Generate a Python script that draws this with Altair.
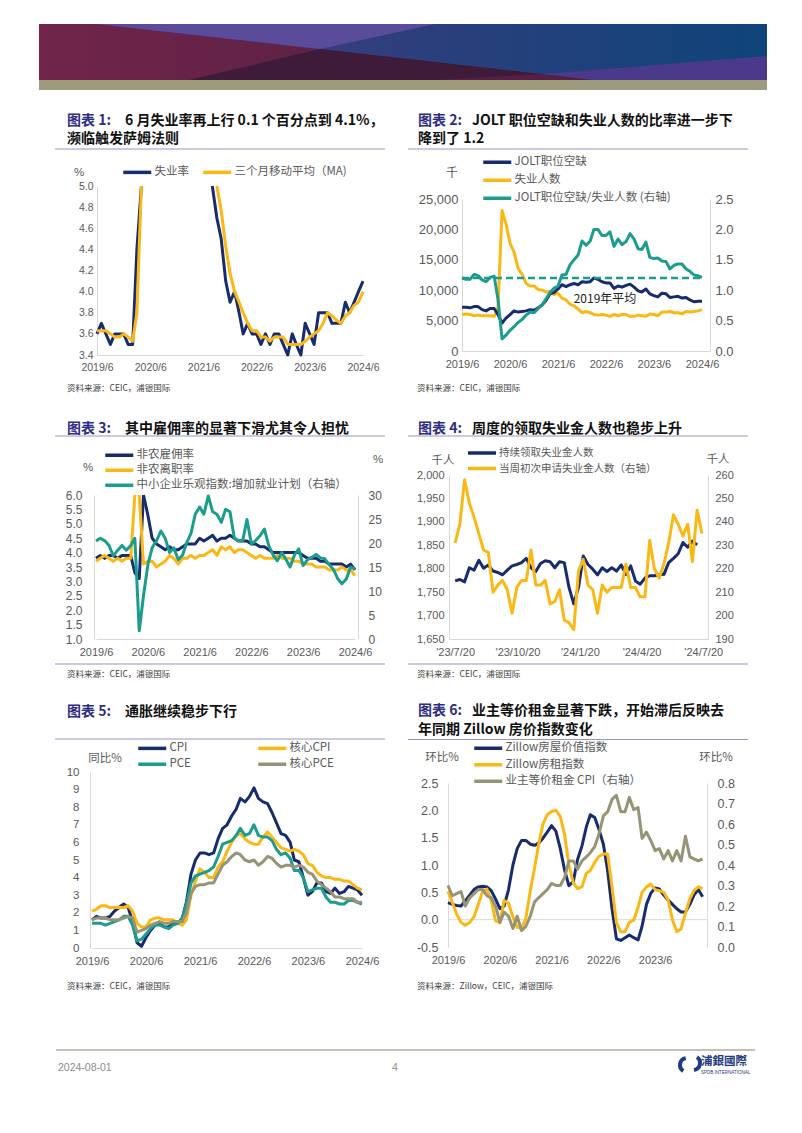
import altair as alt
import pandas as pd

# ---------------- categories ----------------
MONTHS = list(pd.date_range("2019-06-01", "2024-06-01", freq="MS"))   # 2019/6 .. 2024/6
WEEKS = list(pd.date_range("2023-07-20", periods=53, freq="7D"))

# ---------------- panel 1 : unemployment rate (%) ----------------
UNRATE = [3.6, 3.7, 3.6, 3.5, 3.6, 3.6, 3.6,
          3.5, 3.5, 4.4, 14.8, 13.2, 11.0, 10.2, 8.4, 7.8, 6.9, 6.7, 6.7,
          6.4, 6.2, 6.1, 6.1, 5.8, 5.9, 5.4, 5.1, 4.7, 4.5, 4.1, 3.9,
          4.0, 3.8, 3.6, 3.7, 3.6, 3.6, 3.5, 3.6, 3.5, 3.6, 3.6, 3.5,
          3.4, 3.6, 3.5, 3.4, 3.7, 3.6, 3.5, 3.8, 3.8, 3.8, 3.7, 3.7,
          3.7, 3.9, 3.8, 3.9, 4.0, 4.1]
UNRATE_MA3 = [3.63, 3.63, 3.63, 3.6, 3.57, 3.57, 3.6,
              3.57, 3.53, 3.8, 7.57, 10.8, 13.0, 11.47, 9.87, 8.8, 7.7, 7.13, 6.77,
              6.6, 6.43, 6.23, 6.13, 6.0, 5.93, 5.7, 5.47, 5.07, 4.77, 4.43, 4.17,
              4.0, 3.9, 3.8, 3.7, 3.63, 3.63, 3.57, 3.57, 3.53, 3.57, 3.57, 3.57,
              3.5, 3.5, 3.5, 3.5, 3.53, 3.57, 3.6, 3.63, 3.7, 3.8, 3.77, 3.73,
              3.7, 3.77, 3.8, 3.87, 3.9, 4.0]

# ---------------- panel 2 : JOLTS (thousand) ----------------
JOLTS_OPENINGS = [7200, 7200, 7100, 7300, 7300, 6800, 6600,
                  7000, 7000, 6000, 4600, 5400, 6000, 6600, 6400, 6500, 6600, 6800, 6700,
                  7100, 7600, 8300, 9400, 9600, 10200, 10900, 10600, 10900, 11100, 10900, 11400,
                  11300, 11400, 12000, 11800, 11400, 11200, 11200, 10300, 10700, 10500, 10800, 11000,
                  10500, 9900, 9700, 10200, 9400, 9100, 8900, 9500, 9400, 8800, 8900, 9000,
                  8700, 8800, 8400, 8100, 8200, 8200]
UNEMPLOYED = [6000, 6100, 6000, 5800, 5900, 5800, 5800,
              5800, 5700, 7100, 23100, 20900, 17700, 16300, 13600, 12600, 11100, 10700, 10700,
              10100, 10000, 9700, 9800, 9300, 9500, 8700, 8400, 7700, 7400, 6900, 6300,
              6500, 6300, 6000, 5900, 6000, 5900, 5700, 6000, 5800, 6000, 6000, 5700,
              5700, 5900, 5800, 5700, 6100, 6000, 5800, 6400, 6400, 6500, 6300, 6300,
              6100, 6500, 6400, 6500, 6600, 6800]
V_U_RATIO = [1.20, 1.18, 1.18, 1.26, 1.24, 1.17, 1.14,
             1.21, 1.23, 0.85, 0.20, 0.26, 0.34, 0.40, 0.47, 0.52, 0.59, 0.64, 0.63,
             0.70, 0.76, 0.86, 0.96, 1.03, 1.07, 1.25, 1.26, 1.42, 1.50, 1.58, 1.81,
             1.74, 1.81, 2.00, 2.00, 1.90, 1.90, 1.96, 1.72, 1.84, 1.75, 1.80, 1.93,
             1.84, 1.68, 1.67, 1.79, 1.54, 1.52, 1.53, 1.48, 1.47, 1.35, 1.41, 1.43,
             1.43, 1.35, 1.31, 1.25, 1.24, 1.21]
RATIO_2019_AVG = [1.2, 1.2]

# ---------------- panel 3 : hires / separations (%), NFIB hiring plans ----------------
HIRES_RATE = [3.8, 3.9, 3.8, 3.9, 3.9, 3.8, 3.9,
              3.9, 3.9, 3.3, 3.1, 6.8, 5.3, 4.5, 4.3, 4.2, 4.1, 4.2, 4.1,
              4.1, 4.2, 4.3, 4.3, 4.3, 4.5, 4.4, 4.5, 4.6, 4.4, 4.5, 4.5,
              4.6, 4.5, 4.4, 4.4, 4.4, 4.3, 4.3, 4.2, 4.2, 4.1, 4.0, 4.0,
              4.0, 4.0, 4.0, 4.0, 4.0, 3.9, 3.8, 3.8, 3.8, 3.7, 3.7, 3.6,
              3.6, 3.6, 3.6, 3.5, 3.6, 3.4]
SEPARATION_RATE = [3.7, 3.8, 3.9, 3.8, 3.7, 3.8, 3.7,
                   3.8, 3.8, 10.5, 7.6, 3.6, 3.7, 3.7, 3.5, 3.6, 3.7, 3.9, 3.8,
                   3.6, 3.8, 3.8, 3.9, 3.8, 3.9, 3.9, 4.0, 4.1, 3.9, 4.2, 4.1,
                   4.2, 4.0, 4.1, 4.1, 4.0, 3.9, 3.8, 3.9, 3.8, 3.8, 3.8, 3.9,
                   3.8, 3.8, 3.8, 3.7, 3.7, 3.6, 3.6, 3.6, 3.5, 3.5, 3.5, 3.4,
                   3.4, 3.4, 3.5, 3.4, 3.4, 3.2]
NFIB_HIRING_PLANS = [20.4, 21, 20.5, 19.5, 17.3, 18.5, 19.5, 18.5, 19.5, 21,
                     1.7, 9, 15.5, 19, 20.5, 22.5, 21, 18, 19, 16.5,
                     17.5, 20, 22, 26, 27.5, 26, 29.8, 26.5, 26, 24.3,
                     27, 26.5, 21, 20.5, 20.5, 24.9, 19.8, 20.5, 21.5, 22.9,
                     19.5, 17.5, 16.3, 18, 16.5, 15, 17.5, 18.8, 15.3, 16.5,
                     17, 17.6, 16.9, 16.7, 15.5, 14.5, 12.5, 11.5, 12.5, 15, 14.6]

# ---------------- panel 4 : weekly claims (thousand) ----------------
CONT_CLAIMS = [1774, 1777, 1772, 1802, 1797, 1818, 1801, 1808, 1795, 1792,
               1787, 1797, 1806, 1809, 1813, 1822, 1802, 1794, 1811, 1817,
               1815, 1802, 1815, 1813, 1760, 1725, 1760, 1827, 1809, 1799,
               1787, 1802, 1794, 1802, 1795, 1808, 1788, 1806, 1774, 1767,
               1780, 1785, 1785, 1787, 1788, 1813, 1822, 1832, 1856, 1846,
               1859, 1851]
INIT_CLAIMS = [231, 239, 258, 248, 242, 235, 228, 227, 210, 213,
               215, 211, 201, 212, 215, 215, 228, 213, 213, 215,
               205, 206, 211, 198, 197, 194, 219, 224, 213, 211,
               201, 213, 210, 212, 212, 212, 222, 212, 212, 208,
               208, 232, 220, 216, 222, 231, 243, 239, 234, 239,
               223, 245, 235]

# ---------------- panel 5 : inflation YoY (%) ----------------
CPI_YOY = [1.6, 1.8, 1.7, 1.7, 1.8, 2.1, 2.3,
           2.5, 2.3, 1.5, 0.3, 0.1, 0.6, 1.0, 1.3, 1.4, 1.2, 1.2, 1.4,
           1.4, 1.7, 2.6, 4.2, 5.0, 5.4, 5.4, 5.3, 5.4, 6.2, 6.8, 7.0,
           7.5, 7.9, 8.5, 8.3, 8.6, 9.1, 8.5, 8.3, 8.2, 7.7, 7.1, 6.5,
           6.4, 6.0, 5.0, 4.9, 4.0, 3.0, 3.2, 3.7, 3.7, 3.2, 3.1, 3.4,
           3.1, 3.2, 3.5, 3.4, 3.3, 3.0]
CORE_CPI_YOY = [2.1, 2.2, 2.4, 2.4, 2.3, 2.3, 2.3,
                2.3, 2.4, 2.1, 1.4, 1.2, 1.2, 1.6, 1.7, 1.7, 1.6, 1.6, 1.6,
                1.4, 1.3, 1.6, 3.0, 3.8, 4.5, 4.3, 4.0, 4.0, 4.6, 4.9, 5.5,
                6.0, 6.4, 6.5, 6.2, 6.0, 5.9, 5.9, 6.3, 6.6, 6.3, 6.0, 5.7,
                5.6, 5.5, 5.6, 5.5, 5.3, 4.8, 4.7, 4.3, 4.1, 4.0, 4.0, 3.9,
                3.9, 3.8, 3.8, 3.6, 3.4, 3.3]
PCE_YOY = [1.4, 1.4, 1.4, 1.3, 1.4, 1.5, 1.6,
           1.8, 1.8, 1.3, 0.4, 0.5, 0.8, 1.1, 1.3, 1.3, 1.2, 1.1, 1.3,
           1.4, 1.7, 2.5, 3.7, 4.1, 4.2, 4.3, 4.4, 4.6, 5.2, 5.9, 6.0,
           6.1, 6.4, 6.8, 6.4, 6.5, 7.0, 6.4, 6.3, 6.3, 6.1, 5.6, 5.3,
           5.4, 5.1, 4.4, 4.4, 4.0, 3.2, 3.3, 3.4, 3.4, 2.9, 2.6, 2.6,
           2.5, 2.5, 2.7, 2.7, 2.6, 2.5]
CORE_PCE_YOY = [1.6, 1.7, 1.7, 1.7, 1.6, 1.6, 1.6,
                1.7, 1.8, 1.7, 0.9, 1.0, 1.1, 1.3, 1.4, 1.5, 1.4, 1.4, 1.5,
                1.5, 1.5, 2.0, 3.1, 3.5, 3.6, 3.6, 3.7, 3.7, 4.2, 4.7, 4.9,
                5.2, 5.4, 5.3, 5.0, 4.9, 5.0, 4.7, 4.9, 5.2, 5.1, 4.8, 4.6,
                4.7, 4.7, 4.6, 4.7, 4.6, 4.3, 4.2, 3.8, 3.6, 3.4, 3.2, 2.9,
                2.9, 2.8, 2.8, 2.8, 2.6, 2.6]

# ---------------- panel 6 : MoM (%) ----------------
ZHVI_MOM = [0.31, 0.28, 0.26, 0.25, 0.34, 0.45, 0.55, 0.6, 0.61, 0.6,
            0.53, 0.38, 0.2, 0.25, 0.55, 1.0, 1.3, 1.45, 1.45, 1.38,
            1.36, 1.4, 1.49, 1.6, 1.72, 1.62, 1.3, 0.9, 0.62, 0.7,
            1.1, 1.35, 1.7, 1.92, 1.87, 1.65, 1.38, 0.9, 0.2, -0.35,
            -0.38, -0.33, -0.28, -0.33, -0.37, -0.12, 0.28, 0.48, 0.58, 0.56,
            0.45, 0.36, 0.28, 0.2, 0.14, 0.14, 0.28, 0.45, 0.55, 0.42]
ZORI_MOM = [0.52, 0.32, 0.1, -0.05, -0.1, -0.05, 0.05, 0.28, 0.52, 0.56,
            0.35, -0.02, -0.06, 0.35, 0.3, 0.05, -0.14, -0.16, 0.02, 0.52,
            0.95, 1.37, 1.75, 1.92, 1.98, 2.0, 1.89, 1.55, 1.0, 0.67,
            0.57, 0.6, 0.85, 0.9, 1.05, 1.16, 1.2, 1.2, 0.6, -0.05,
            -0.22, -0.22, -0.05, -0.01, 0.23, 0.5, 0.6, 0.65, 0.55, 0.53,
            0.5, 0.36, 0.0, -0.22, -0.17, 0.12, 0.38, 0.53, 0.6, 0.57]
OER_MOM = [0.30, 0.25, 0.26, 0.27, 0.2, 0.24, 0.26, 0.28, 0.28, 0.25,
           0.24, 0.2, 0.12, 0.17, 0.15, 0.09, 0.15, 0.08, 0.1, 0.15,
           0.22, 0.24, 0.26, 0.28, 0.31, 0.3, 0.3, 0.34, 0.42, 0.42,
           0.38, 0.42, 0.44, 0.46, 0.49, 0.55, 0.64, 0.66, 0.72, 0.74,
           0.66, 0.66, 0.73, 0.67, 0.68, 0.53, 0.56, 0.52, 0.47, 0.48,
           0.43, 0.47, 0.42, 0.47, 0.42, 0.54, 0.44, 0.43, 0.42, 0.43]

# ---------------- styling ----------------
W = 364
FONT_CJK = "Noto Sans CJK SC"
FONT_NUM = "Liberation Sans"
LBL = "#595959"
AXL = "#D9D9D9"
NAVY = "#172C6E"
GOLD = "#FBB814"
TEAL = "#1C9C8E"
OLIVE = "#979476"
INDIGO = "#2D2E83"
SEP = "#9794BC"
DUMMY = alt.Data(values=[{"k": 1}])


def DT(y, m, d=1):
    return alt.DateTime(year=y, month=m, date=d)


def series_df(dates, vals, name, top=None):
    """Long table; a run of points above the plotted range is cut into separate segments."""
    rows, seg, n = [], 0, len(vals)
    for i in range(n):
        v = vals[i]
        if top is not None and v > top:
            prev_above = i > 0 and vals[i - 1] > top
            next_above = i + 1 < n and vals[i + 1] > top
            if not prev_above:
                rows.append((dates[i], v, seg))
                seg += 1
            if not next_above:
                rows.append((dates[i], v, seg))
        else:
            rows.append((dates[i], v, seg))
    df = pd.DataFrame(rows, columns=["date", "value", "seg"])
    df["series"] = name
    return df


def x_time(domain, rng, ticks, fmt, axis_y, H, size=11, domain_line=True):
    return alt.X("date:T", scale=alt.Scale(domain=domain, range=rng),
                 axis=alt.Axis(values=ticks, format=fmt, title=None, grid=False, ticks=False,
                               domain=domain_line, domainColor=AXL, domainWidth=1,
                               labelFont=FONT_NUM, labelFontSize=size, labelColor=LBL,
                               labelPadding=7, labelFlush=False, labelOverlap=False,
                               offset=axis_y - H))


def y_val(domain, rng, orient=None, axis_x=None, ticks=None, fmt=None, pad=5, size=11, clamp=False):
    if orient is None:
        axis = None
    else:
        off = -axis_x if orient == "left" else axis_x - W
        axis = alt.Axis(orient=orient, values=ticks, format=fmt, title=None, grid=False, ticks=False,
                        domainColor=AXL, domainWidth=1, labelFont=FONT_NUM, labelFontSize=size,
                        labelColor=LBL, labelPadding=pad, labelOverlap=False, labelFlush=False,
                        offset=off, labelExpr="replace(datum.label, '\u2212', '-')")
    return alt.Y("value:Q", scale=alt.Scale(domain=domain, range=rng, clamp=clamp, nice=False, zero=False),
                 axis=axis)


def color_enc(names, colors, lx, ly, direction="vertical", columns=None, row_pad=5, col_pad=10, size=11.5):
    kw = dict(orient="none", legendX=lx, legendY=ly, direction=direction, title=None,
              symbolType="M-1,0L7,0", symbolSize=49, symbolStrokeWidth=3.5,
              labelFont=FONT_CJK, labelFontSize=size, labelColor=LBL, labelOffset=22,
              rowPadding=row_pad, columnPadding=col_pad, padding=0, labelLimit=400)
    if columns:
        kw["columns"] = columns
    return alt.Color("series:N", scale=alt.Scale(domain=names, range=colors), legend=alt.Legend(**kw))


def line(df, x, y, color, width=3.0):
    return alt.Chart(df).mark_line(strokeWidth=width, strokeJoin="round").encode(
        x=x, y=y, color=color, detail="seg:N")


def label(s, x, y, size=11.5, color=LBL, font=FONT_CJK, weight="normal", align="left"):
    return alt.Chart(DUMMY).mark_text(text=s, font=font, fontSize=size, color=color, fontWeight=weight,
                                      align=align, baseline="middle").encode(x=alt.value(x), y=alt.value(y))


def hrule(x1, x2, y, color=SEP, width=1):
    return alt.Chart(DUMMY).mark_rule(color=color, strokeWidth=width).encode(
        x=alt.value(x1), x2=alt.value(x2), y=alt.value(y))


def title(prefix, rest, x, xr, y, line2=None, y2=None):
    out = [label(prefix, x, y, 14, INDIGO, weight="bold"),
           label(rest, xr, y, 14, "#111111", weight="bold")]
    if line2:
        out.append(label(line2, x, y2, 14, "#111111", weight="bold"))
    return out


def source(s, x, y):
    return label(s, x, y, 8.5, "#404040")


YT = [DT(y, 6) for y in range(2019, 2025)]

# ================= banner =================
BX = alt.Scale(domain=[0, 728], range=[0, 728], nice=False, zero=False)
BY = alt.Scale(domain=[0, 66], range=[0, 66], nice=False, zero=False)


def band(xs, tops, bots, fill):
    df = pd.DataFrame({"x": xs, "t": tops, "b": bots})
    return alt.Chart(df).mark_area(color=fill, orient="vertical", interpolate="linear").encode(
        x=alt.X("x:Q", scale=BX, axis=None), y=alt.Y("t:Q", scale=BY, axis=None), y2="b:Q")


def grad(*cols):
    n = len(cols) - 1
    return alt.LinearGradient(gradient="linear", x1=0, x2=1, y1=0, y2=0,
                              stops=[alt.GradientStop(color=c, offset=i / n) for i, c in enumerate(cols)])


ban_l = alt.layer(
    band([0, 728], [0, 0], [56, 56], grad("#702549", "#5A2145", "#4A1D3D")),
    band([58, 554, 728], [0, 0, 0], [0, 56, 56], grad("#4A3C86", "#2B3F7C", "#0F447A")),
    band([58, 281, 396], [0, 0, 0], [0, 25, 0], "#5A4C9B"),
    band([150, 281, 554], [56, 25, 56], [56, 56, 56], "#3E1B39"),
    band([396, 503, 554], [56, 50, 56], [56, 56, 56], "#561E49"),
    band([503, 554, 728], [50, 45.9, 32], [50, 56, 56], "#4B398B"),
    band([0, 728], [56, 56], [66, 66], "#9D9B7D"),
).properties(width=W, height=80)
ban_r = label(" ", 0, 0).properties(width=W, height=80)

# ================= panel 1 =================
H1 = 294
x1 = x_time([DT(2019, 6), DT(2024, 6)], [58, 324], YT, "%Y/%-m", 251, H1, size=10.5)
n1 = ["失业率", "三个月移动平均（MA)"]
c1 = color_enc(n1, [NAVY, GOLD], 82, 62.5, direction="horizontal", col_pad=7)
yL1 = y_val([3.4, 5.0], [251, 82], "left", 58, [3.4, 3.6, 3.8, 4.0, 4.2, 4.4, 4.6, 4.8, 5.0], ".1f",
            pad=4, size=10.5, clamp=True)
yN1 = y_val([3.4, 5.0], [251, 82], clamp=True)
p1 = alt.layer(
    *title("图表 1:", "6 月失业率再上行 0.1 个百分点到 4.1%，", 28, 86, 16.5, "濒临触发萨姆法则", 35),
    hrule(16, 346, 45),
    label("%", 40, 69, 11.5, LBL, FONT_NUM, align="center"),
    line(series_df(MONTHS, UNRATE, n1[0], 5.0), x1, yL1, c1),
    line(series_df(MONTHS, UNRATE_MA3, n1[1], 5.0), x1, yN1, c1),
    source("资料来源：CEIC，浦银国际", 28, 284),
).properties(width=W, height=H1).resolve_scale(y="independent")

# ================= panel 2 =================
H2 = 294
x2 = x_time([DT(2019, 6), DT(2024, 8)], [59, 307], YT, "%Y/%-m", 247, H2, size=11)
n2 = ["JOLT职位空缺", "失业人数", "JOLT职位空缺/失业人数 (右轴)"]
c2 = color_enc(n2, [NAVY, GOLD, TEAL], 78, 52.5, row_pad=3)
yL2 = y_val([0, 25000], [247, 95], "left", 59, [0, 5000, 10000, 15000, 20000, 25000], ",d", pad=4, size=13)
yL2n = y_val([0, 25000], [247, 95])
yR2 = y_val([0, 2.5], [247, 95], "right", 307, [0, 0.5, 1.0, 1.5, 2.0, 2.5], ".1f", pad=5, size=13)
yR2n = y_val([0, 2.5], [247, 95])
avg_df = pd.DataFrame({"date": [MONTHS[0], MONTHS[-1]], "value": RATIO_2019_AVG})
avg_line = alt.Chart(avg_df).mark_line(strokeWidth=2.5, strokeDash=[7, 4], color=TEAL).encode(x=x2, y=yR2n)
p2 = alt.layer(
    *title("图表 2:", "JOLT 职位空缺和失业人数的比率进一步下", 15, 69, 16.5, "降到了 1.2", 35),
    hrule(5, 345, 45),
    label("千", 49, 69, 12, LBL, FONT_CJK, align="center"),
    line(series_df(MONTHS, UNEMPLOYED, n2[1]), x2, yL2, c2),
    line(series_df(MONTHS, JOLTS_OPENINGS, n2[0]), x2, yL2n, c2),
    avg_line,
    line(series_df(MONTHS, V_U_RATIO, n2[2]), x2, yR2, c2),
    label("2019年平均", 202, 195, 12, "#222222", align="center"),
    source("资料来源：CEIC，浦银国际", 14, 284),
).properties(width=W, height=H2).resolve_scale(y="independent")

# ================= panel 3 =================
H3 = 296
x3 = x_time([DT(2019, 6), DT(2024, 6)], [57, 316], YT, "%Y/%-m", 241, H3, size=11)
n3 = ["非农雇佣率", "非农离职率", "中小企业乐观指数:增加就业计划（右轴）"]
c3 = color_enc(n3, [NAVY, GOLD, TEAL], 64, 51.5, row_pad=0)
yL3 = y_val([1, 6], [241, 97], "left", 55, [1.0, 1.5, 2.0, 2.5, 3.0, 3.5, 4.0, 4.5, 5.0, 5.5, 6.0], ".1f",
            pad=12, size=12, clamp=True)
yL3n = y_val([1, 6], [241, 97], clamp=True)
yR3 = y_val([0, 30], [241, 97], "right", 319, [0, 5, 10, 15, 20, 25, 30], "d", pad=10, size=12)
p3 = alt.layer(
    *title("图表 3:", "其中雇佣率的显著下滑尤其令人担忧", 28, 86, 31),
    hrule(16, 346, 38),
    hrule(16, 346, 266),
    label("%", 49, 70, 11.5, LBL, FONT_NUM, align="center"),
    label("%", 339, 62, 11.5, LBL, FONT_NUM, align="center"),
    line(series_df(MONTHS, HIRES_RATE, n3[0], 6.0), x3, yL3, c3),
    line(series_df(MONTHS, SEPARATION_RATE, n3[1], 6.0), x3, yL3n, c3),
    line(series_df(MONTHS, NFIB_HIRING_PLANS, n3[2]), x3, yR3, c3),
    source("资料来源：CEIC，浦银国际", 28, 276),
).properties(width=W, height=H3).resolve_scale(y="independent")

# ================= panel 4 =================
H4 = 296
WT = [DT(2023, 7, 20), DT(2023, 10, 20), DT(2024, 1, 20), DT(2024, 4, 20), DT(2024, 7, 20)]
x4 = x_time([DT(2023, 7, 11), DT(2024, 7, 27)], [46, 305], WT, "'%y/%-m/%-d", 241, H4, size=11)
n4 = ["持续领取失业金人数", "当周初次申请失业金人数（右轴）"]
c4 = color_enc(n4, [NAVY, GOLD], 63, 49.5, row_pad=0.5, size=10.5)
yL4 = y_val([1650, 2000], [241, 77], "left", 46, [1650, 1700, 1750, 1800, 1850, 1900, 1950, 2000], ",d",
            pad=5, size=11)
yR4 = y_val([190, 260], [241, 77], "right", 305, [190, 200, 210, 220, 230, 240, 250, 260], "d", pad=7, size=11)
p4 = alt.layer(
    *title("图表 4:", "周度的领取失业金人数也稳步上升", 15, 69, 31),
    hrule(5, 345, 38),
    hrule(5, 345, 266),
    label("千人", 40, 63, 11.5, LBL, FONT_CJK, align="center"),
    label("千人", 315, 62, 11.5, LBL, FONT_CJK, align="center"),
    line(series_df(WEEKS[:52], CONT_CLAIMS, n4[0]), x4, yL4, c4),
    line(series_df(WEEKS, INIT_CLAIMS, n4[1]), x4, yR4, c4),
    source("资料来源：CEIC，浦银国际", 14, 276),
).properties(width=W, height=H4).resolve_scale(y="independent")

# ================= panel 5 =================
H5 = 312
x5 = x_time([DT(2019, 6), DT(2024, 6)], [53, 323], YT, "%Y/%-m", 254, H5, size=11)
n5 = ["CPI", "核心CPI", "PCE", "核心PCE"]
c5 = color_enc(n5, [NAVY, GOLD, TEAL, OLIVE], 97, 48.5, direction="horizontal", columns=2,
               row_pad=1, col_pad=60)
yL5 = y_val([0, 10], [254, 78], "left", 51, list(range(11)), "d", pad=11, size=11.5)
yN5 = y_val([0, 10], [254, 78])
p5 = alt.layer(
    *title("图表 5:", "通胀继续稳步下行", 28, 86, 18),
    hrule(16, 346, 45),
    label("同比%", 66, 65, 11.5, LBL, FONT_CJK, align="center"),
    line(series_df(MONTHS, CPI_YOY, n5[0]), x5, yL5, c5),
    line(series_df(MONTHS, CORE_CPI_YOY, n5[1]), x5, yN5, c5),
    line(series_df(MONTHS, PCE_YOY, n5[2]), x5, yN5, c5),
    line(series_df(MONTHS, CORE_PCE_YOY, n5[3]), x5, yN5, c5),
    source("资料来源：CEIC，浦银国际", 28, 292),
).properties(width=W, height=H5).resolve_scale(y="independent")

# ================= panel 6 =================
H6 = 312
YT6 = [DT(y, 6) for y in range(2019, 2024)]
x6 = x_time([DT(2019, 6), DT(2024, 6)], [45, 304], YT6, "%Y/%-m", 253, H6, size=11, domain_line=False)
n6 = ["Zillow房屋价值指数", "Zillow房租指数", "业主等价租金 CPI（右轴）"]
c6 = color_enc(n6, [NAVY, GOLD, OLIVE], 69, 48.5, row_pad=1.5)
yL6 = y_val([-0.5, 2.5], [253, 89], "left", 45, [-0.5, 0.0, 0.5, 1.0, 1.5, 2.0, 2.5], ".1f", pad=10, size=12.5)
yL6n = y_val([-0.5, 2.5], [253, 89])
yR6 = y_val([0, 0.8], [253, 89], "right", 304, [0, 0.1, 0.2, 0.3, 0.4, 0.5, 0.6, 0.7, 0.8], ".1f",
            pad=10, size=12.5)
zero_line = alt.Chart(DUMMY).mark_rule(color=AXL, strokeWidth=1).encode(
    x=alt.value(45), x2=alt.value(304),
    y=alt.YDatum(0, type="quantitative",
                 scale=alt.Scale(domain=[-0.5, 2.5], range=[253, 89], nice=False, zero=False), axis=None))
p6 = alt.layer(
    *title("图表 6:", "业主等价租金显著下跌，开始滞后反映去", 15, 69, 17, "年同期 Zillow 房价指数变化", 36),
    hrule(5, 345, 45.5),
    label("环比%", 39, 64, 11.5, LBL, FONT_CJK, align="center"),
    label("环比%", 313, 64, 11.5, LBL, FONT_CJK, align="center"),
    zero_line,
    line(series_df(MONTHS[:60], ZHVI_MOM, n6[0]), x6, yL6, c6),
    line(series_df(MONTHS[:60], ZORI_MOM, n6[1]), x6, yL6n, c6),
    line(series_df(MONTHS[:60], OER_MOM, n6[2]), x6, yR6, c6),
    source("资料来源：Zillow，CEIC，浦银国际", 14, 292),
).properties(width=W, height=H6).resolve_scale(y="independent")

# ================= footer =================
HF = 80
foot_l = alt.layer(
    hrule(17, 716, 44, "#C4C1B8", 2),
    label("2024-08-01", 19, 62, 10.5, "#8C8C8C", FONT_NUM),
    label("4", 356, 62, 10.5, "#8C8C8C", FONT_NUM, align="center"),
).properties(width=W, height=HF)
arc_a = alt.Chart(DUMMY).mark_arc(radius=9, radius2=5, theta=3.7, theta2=6.1, color="#1F3C8A").encode(
    x=alt.value(284), y=alt.value(59))
arc_b = alt.Chart(DUMMY).mark_arc(radius=9, radius2=5, theta=0.6, theta2=3.0, color="#1F3C8A").encode(
    x=alt.value(290), y=alt.value(57))
foot_r = alt.layer(
    arc_a, arc_b,
    label("浦銀國際", 298, 56, 11.5, "#1F3C7E", "Noto Sans CJK TC", weight="bold"),
    label("SPDB INTERNATIONAL", 298, 67, 4.5, "#1F3C7E", FONT_NUM),
).properties(width=W, height=HF)

chart = alt.concat(ban_l, ban_r, p1, p2, p3, p4, p5, p6, foot_l, foot_r,
                   columns=2, spacing=0, bounds="flush", align="each")
chart = chart.resolve_scale(x="independent", y="independent", color="independent") \
             .resolve_legend(color="independent")
chart = chart.properties(padding={"left": 31, "top": 10, "right": 4, "bottom": 4},
                         background="white").configure_view(stroke=None)

chart.save("out.html", embed_options={"renderer": "svg", "actions": False})
